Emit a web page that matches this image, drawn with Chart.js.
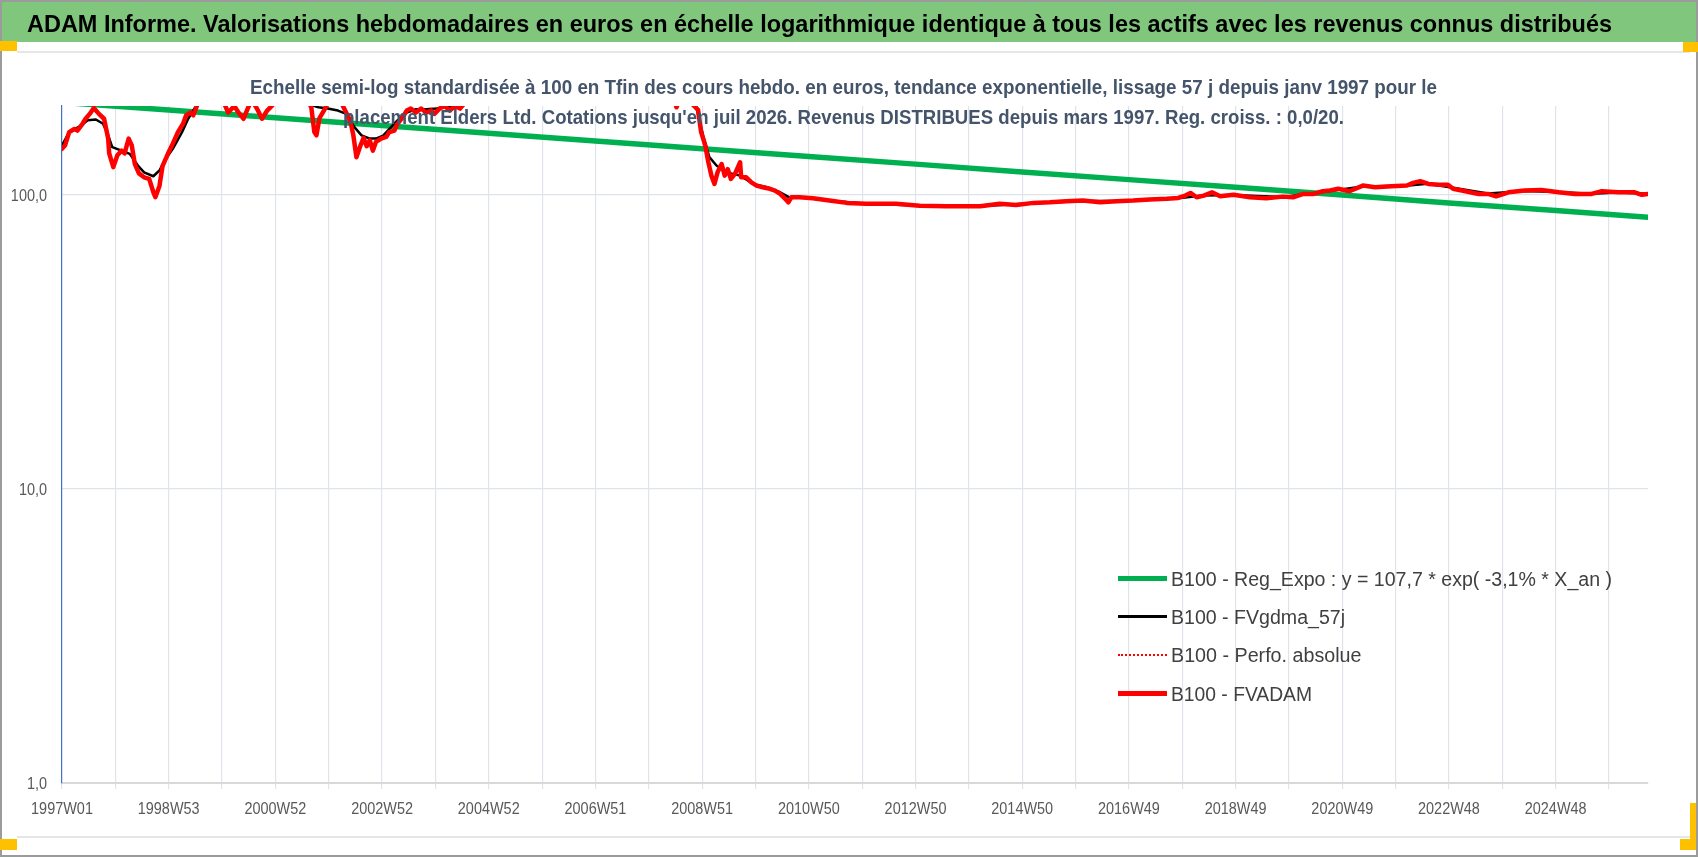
<!DOCTYPE html>
<html><head><meta charset="utf-8">
<script src="https://cdn.jsdelivr.net/npm/chart.js@4.4.1/dist/chart.umd.min.js"></script>
<style>
html,body{margin:0;padding:0;background:#fff;}
#wrap{position:relative;width:1698px;height:857px;overflow:hidden;background:#fff;}
.abs{position:absolute;}
.txt{position:absolute;white-space:nowrap;transform-origin:0 0;display:inline-block;margin:0;padding:0;}
.ls{position:absolute;left:1118px;width:49px;}
</style></head><body>
<div id="wrap">
 <div class="abs" style="left:0;top:0;width:1698px;height:857px;box-sizing:border-box;border:2px solid #9b9b9b;"></div>
 <div class="abs" style="left:2px;top:2px;width:1694px;height:40px;background:#80C77D;"></div>
 <div class="abs" style="left:17px;top:51px;width:1673px;height:2px;background:#E4E6E8;"></div>
 <div class="abs" style="left:17px;top:836px;width:1673px;height:2px;background:#E4E6E8;"></div>
 <div class="abs" style="left:0;top:41px;width:17px;height:10px;background:#FFC000;"></div>
 <div class="abs" style="left:1683px;top:42px;width:15px;height:10px;background:#FFC000;"></div>
 <div class="abs" style="left:0;top:839px;width:17px;height:11px;background:#FFC000;"></div>
 <div class="abs" style="left:1690px;top:803px;width:6px;height:37px;background:#FFC000;"></div>
 <div class="abs" style="left:1680px;top:839px;width:16px;height:11px;background:#FFC000;"></div>
 <canvas id="chart" class="abs" style="left:0;top:0;width:1698px;height:857px;"></canvas>
 <div id="title" class="txt" style="left:27px;top:12px;font:bold 24px/24px 'Liberation Sans Narrow','Liberation Sans',Arial,sans-serif;color:#000;">ADAM Informe. Valorisations hebdomadaires en euros en échelle logarithmique identique à tous les actifs avec les revenus connus distribués</div>
 <div id="sub1" class="txt" style="left:250px;top:75.5px;font:bold 21px/21px 'Liberation Sans Narrow','Liberation Sans',Arial,sans-serif;color:#44546A;">Echelle semi-log standardisée à 100 en Tfin des cours hebdo. en euros, tendance exponentielle, lissage 57 j depuis janv 1997 pour le</div>
 <div id="sub2" class="txt" style="left:343px;top:105.5px;font:bold 21px/21px 'Liberation Sans Narrow','Liberation Sans',Arial,sans-serif;color:#44546A;">placement Elders Ltd. Cotations jusqu'en juil 2026. Revenus DISTRIBUES depuis mars 1997. Reg. croiss. : 0,0/20.</div>
 <div class="ls" style="top:576px;height:5px;background:#00B050;"></div>
 <div class="ls" style="top:615px;height:3px;background:#000;"></div>
 <div class="ls" style="top:654px;height:0;border-top:2px dotted #FF0000;"></div>
 <div class="ls" style="top:691px;height:5px;background:#FF0000;"></div>
 <div id="lg1" class="txt lg" style="left:1171px;top:569px;">B100 - Reg_Expo : y = 107,7 * exp( -3,1% *  X_an )</div>
 <div id="lg2" class="txt lg" style="left:1171px;top:607px;">B100 - FVgdma_57j</div>
 <div id="lg3" class="txt lg" style="left:1171px;top:645px;">B100 - Perfo. absolue</div>
 <div id="lg4" class="txt lg" style="left:1171px;top:684px;">B100 - FVADAM</div>
</div>
<script>
// ---------- DATA ----------
const tickLabels = ["1997W01","1998W53","2000W52","2002W52","2004W52","2006W51","2008W51","2010W50","2012W50","2014W50","2016W49","2018W49","2020W49","2022W48","2024W48"];
const weeksPerLabel = 104;
const weeksPerGrid = 52;
const lastWeek = 1546;
const yTickValues = [1, 10, 100];
const yMin = 1, yMax = 200;

// [week index since 1997W01, value]
const regExpo = [[0,205.8],[104,193.8],[208,182.4],[312,171.7],[416,161.6],[520,152.1],[624,143.2],[728,134.8],[832,126.9],[936,119.4],[1040,112.4],[1144,105.8],[1248,99.6],[1352,93.7],[1456,88.2],[1546,83.7]];

const fvgdma57 = [[0,147],[7,163],[19,172],[25,179],[33,180],[40,174],[45,159],[49,145],[58,141],[66,137.5],[74,125.5],[80,119],[89,115.4],[95,120.7],[100,130.5],[108,143],[117,163],[123,181],[129,196],[135,208],[160,222],[200,216],[240,203],[250,198],[259,196],[269,193],[277,188],[285,169.5],[292,159],[300,155],[306,155],[313,158.7],[319,167],[327,178.6],[336,190],[345,195],[355,195],[365,196],[374,198],[384,198],[393,202],[420,228],[500,282],[600,236],[612,206],[618,200],[625,158.7],[631,134],[638,125.5],[648,119],[661,116],[674,108.7],[687,105.9],[700,101.8],[709,97.9],[719,97.9],[748,95.4],[784,93],[836,91.8],[894,91.2],[946,93.5],[995,95],[1044,95.3],[1088,97.2],[1112,99.3],[1141,99.6],[1190,98.2],[1229,102],[1268,106.5],[1310,107.2],[1331,108.8],[1356,105.5],[1390,100.8],[1426,102.8],[1458,102],[1491,100.7],[1517,101.7],[1546,100.6]];

const fvadam = [[0,143],[3,147],[7,163],[12,167],[15,165],[20,174],[23,181],[27,188],[31,197],[36,188],[41,181],[45,155],[46,138],[50,124],[54,136],[58,141],[61,138],[65,155],[68,147],[71,127],[75,118],[80,114.5],[85,113],[89,102],[91,98],[95,107],[98,125],[103,137],[108,149],[113,163],[118,174],[121,186],[125,190],[128,186],[131,198],[134,212],[145,228],[155,216],[162,190],[168,200],[172,190],[177,181],[181,196],[185,210],[190,196],[195,181],[200,193],[205,201],[212,218],[225,230],[238,214],[243,198],[246,163],[248,159],[251,182],[255,192],[258,201],[265,214],[272,206],[276,193],[281,178],[284,159],[287,134],[291,147],[294,156],[297,146],[300,153],[303,141],[306,151],[311,155],[316,157],[319,163],[324,165],[327,174],[332,183],[336,193],[340,196],[345,190],[350,196],[355,190],[360,193],[363,188],[368,196],[373,200],[378,193],[383,200],[388,196],[393,206],[410,228],[450,262],[500,290],[560,272],[596,215],[599,198],[601,206],[608,225],[615,202],[620,194],[623,163],[627,147],[630,129],[633,116],[636,108.7],[639,119],[643,127],[646,116],[649,122],[652,113],[656,117.6],[661,128.8],[662,114.5],[667,114.5],[672,110],[677,107.3],[683,105.9],[690,104.6],[695,103.2],[700,100.6],[705,96.7],[708,94.1],[711,97.9],[719,97.9],[732,97.1],[748,95.4],[765,93.7],[784,93],[813,93],[836,91.7],[862,91.2],[895,91.2],[914,93],[930,92.2],[947,93.7],[963,94.1],[979,94.9],[995,95.4],[1012,94.1],[1028,94.9],[1044,95.4],[1060,96.2],[1077,96.7],[1088,97.4],[1095,99.2],[1100,101.3],[1106,97.9],[1113,99.2],[1121,101.8],[1129,98.7],[1142,99.8],[1158,97.9],[1174,97.1],[1190,98.4],[1200,97.9],[1210,100.5],[1220,100.5],[1229,102.6],[1236,103.2],[1244,104.6],[1255,102.6],[1268,107.3],[1280,105.9],[1296,106.7],[1311,107.3],[1317,109.6],[1324,111],[1332,108.7],[1342,107.9],[1351,107.9],[1356,104.6],[1368,102.6],[1381,100.5],[1390,100.5],[1398,98.7],[1410,101.8],[1426,103.2],[1442,103.7],[1459,101.8],[1475,100.5],[1491,100.5],[1501,102.6],[1517,101.8],[1533,101.8],[1540,99.8],[1546,100.5]];

const perfoAbsolue = fvadam;

// ---------- text fitting ----------
document.querySelectorAll('.lg').forEach(e=>{e.style.font="20px/20px 'Liberation Sans Narrow','Liberation Sans',Arial,sans-serif";e.style.color='#404040';});
function fit(id,w){const el=document.getElementById(id);el.style.transform='none';const r=el.getBoundingClientRect().width;el.style.transform='scaleX('+(w/r)+')';}
fit('title',1585); fit('sub1',1187); fit('sub2',1001);
fit('lg1',441); fit('lg2',174); fit('lg3',190.5); fit('lg4',141);

// ---------- condensed tick labels drawn at the scales' own pixels ----------
const tickFont = '17px "Liberation Sans", Arial, sans-serif';
const condensedTicks = {
  id:'condensedTicks',
  afterDraw(chart){
    const ctx=chart.ctx, xs=chart.scales.x, ys=chart.scales.y;
    ctx.save();
    ctx.font=tickFont; ctx.fillStyle='#595959'; ctx.textBaseline='alphabetic';
    const sx=0.85;
    // x labels
    xs.ticks.forEach(t=>{
      const v=t.value;
      if(v%weeksPerLabel!==0) return;
      const lab=tickLabels[v/weeksPerLabel]; if(!lab) return;
      const px=xs.getPixelForValue(v);
      const w=ctx.measureText(lab).width*sx;
      ctx.save(); ctx.translate(px-w/2, xs.top+31); ctx.scale(sx,1); ctx.textAlign='left'; ctx.fillText(lab,0,0); ctx.restore();
    });
    // y labels
    ys.ticks.forEach(t=>{
      const lab=Number(t.value).toFixed(1).replace('.',',');
      const py=ys.getPixelForValue(t.value);
      const w=ctx.measureText(lab).width*sx;
      ctx.save(); ctx.translate(ys.right-15-w, py+6); ctx.scale(sx,1); ctx.textAlign='left'; ctx.fillText(lab,0,0); ctx.restore();
    });
    ctx.restore();
  }
};

// ---------- chart ----------
const toXY = arr => arr.map(p=>({x:p[0], y:p[1]}));
const gridCol='#DFE4EB';
new Chart(document.getElementById('chart'),{
  type:'line',
  data:{datasets:[
    {label:'B100 - FVADAM', data:toXY(fvadam), borderColor:'#FF0000', borderWidth:4.5, order:0, clip:0},
    {label:'B100 - Perfo. absolue', data:toXY(perfoAbsolue), borderColor:'#FF0000', borderWidth:1.5, borderDash:[2,2], order:1, clip:0},
    {label:'B100 - FVgdma_57j', data:toXY(fvgdma57), borderColor:'#000000', borderWidth:2.5, order:2, clip:0},
    {label:'B100 - Reg_Expo', data:toXY(regExpo), borderColor:'#00B050', borderWidth:5.5, order:3, clip:0}
  ]},
  plugins:[condensedTicks],
  options:{
    responsive:false, animation:false, devicePixelRatio:1,
    layout:{padding:{left:0,right:50,top:106,bottom:14}},
    elements:{point:{radius:0}, line:{tension:0, borderJoinStyle:'round', borderCapStyle:'round'}},
    plugins:{legend:{display:false}, tooltip:{enabled:false}, title:{display:false}},
    scales:{
      x:{type:'linear', min:0, max:lastWeek,
        afterBuildTicks:s=>{const t=[];for(let w=0;w<=lastWeek;w+=weeksPerGrid)t.push({value:w});s.ticks=t;},
        afterFit:s=>{s.height=60;},
        ticks:{display:false, autoSkip:false},
        grid:{color:gridCol, lineWidth:1.2, drawTicks:true, tickLength:6},
        border:{color:'#D9D9D9', width:2}
      },
      y:{type:'logarithmic', min:yMin, max:yMax,
        afterBuildTicks:s=>{s.ticks=yTickValues.map(v=>({value:v}));},
        afterFit:s=>{s.width=62;},
        ticks:{display:false},
        grid:{color:gridCol, lineWidth:1.2, drawTicks:false},
        border:{color:'#4472C4', width:1.2}
      }
    }
  }
});
</script>
</body></html>
